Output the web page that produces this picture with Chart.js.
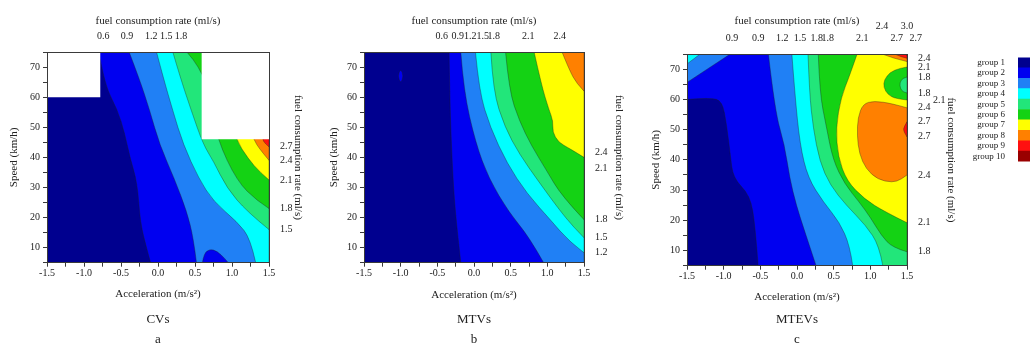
<!DOCTYPE html>
<html>
<head>
<meta charset="utf-8">
<script src="https://cdn.jsdelivr.net/npm/chart.js@4.4.0/dist/chart.umd.min.js"></script>
<style>
  body { margin: 0; background: #fff; width: 1035px; height: 361px; position: relative; overflow: hidden; }
  canvas { position: absolute; }
</style>
</head>
<body>
<canvas id="cvs" width="310" height="361" style="left:0;top:0"></canvas>
<canvas id="mtvs" width="310" height="361" style="left:322px;top:0"></canvas>
<canvas id="mtevs" width="320" height="361" style="left:646px;top:0"></canvas>
<canvas id="groups" width="63" height="125" style="left:972px;top:47px"></canvas>
<script>
// group colours, index = group number (0 = no data)
const groupColors = ['#ffffff', '#00008f', '#0000f0', '#2080f5', '#00ffff', '#22e67a',
  '#14d214', '#ffff00', '#ff8000', '#ff1010', '#9a0000'];
const groupNames = ['group 1', 'group 2', 'group 3', 'group 4', 'group 5',
  'group 6', 'group 7', 'group 8', 'group 9', 'group 10'];
const legendSpan = [1, 1, 1, 1, 1, 1, 1, 1, 1, 1];

// whole plotting range (acceleration m/s², speed km/h)
const fullArea = [[-1.5, 5], [-1.5, 75], [1.5, 75], [1.5, 5]];

// ---- CVs : contour regions, [acceleration, speed] ----
const cvsG2 = [[-0.80, 75], [-0.72, 64], [-0.55, 56], [-0.45, 48], [-0.38, 40], [-0.28, 31.6], [-0.24, 18.3], [-0.15, 9.4], [-0.10, 5], [1.5, 5], [1.5, 75]];
const cvsG3 = [[-0.39, 75], [-0.25, 66], [-0.11, 55.5], [0.02, 44.3], [0.22, 33], [0.39, 22], [0.48, 13], [0.52, 5], [1.5, 5], [1.5, 75]];
const cvsBlob2 = [[0.60, 5], [0.62, 8], [0.70, 9.6], [0.80, 8.8], [0.90, 6.5], [0.95, 5]];
const cvsG4 = [[-0.02, 75], [0.07, 66.6], [0.20, 55.5], [0.34, 44.3], [0.55, 33], [0.75, 25.3], [1.07, 18.6], [1.25, 13], [1.32, 5], [1.5, 5], [1.5, 75]];
const cvsG5 = [[0.20, 75], [0.30, 66.6], [0.45, 55.5], [0.61, 44.3], [0.75, 38.7], [0.93, 29.8], [1.20, 22], [1.5, 16], [1.5, 75]];
const cvsG6 = [[0.39, 75], [0.57, 70], [0.70, 60], [0.80, 46], [1.07, 32], [1.34, 25.5], [1.5, 23], [1.5, 75]];
const cvsG7 = [[0.90, 75], [0.98, 55], [1.05, 46], [1.22, 39.5], [1.38, 35], [1.5, 32.5], [1.5, 75]];
const cvsG8 = [[1.20, 75], [1.25, 50], [1.29, 46], [1.38, 42.5], [1.5, 39], [1.5, 75]];
const cvsG9 = [[1.38, 75], [1.40, 50], [1.41, 46], [1.45, 44.5], [1.5, 43.5], [1.5, 75]];
const cvsBlankL = [[-1.5, 60], [-0.78, 60], [-0.78, 75], [-1.5, 75]];
const cvsBlankR = [[0.59, 46], [1.5, 46], [1.5, 75], [0.59, 75]];
const cvsTopTicks = [-0.74, -0.42, -0.09, 0.11, 0.31];
const cvsTopLabels = ['0.6', '0.9', '1.2', '1.5', '1.8'];
const cvsRightTicks = [16, 23, 32.2, 38.9, 43.8];
const cvsRightLabels = ['1.5', '1.8', '2.1', '2.4', '2.7'];

// ---- MTVs ----
const mtvsG2 = [[-0.34, 75], [-0.33, 60], [-0.31, 45], [-0.28, 30], [-0.24, 18], [-0.18, 5], [1.5, 5], [1.5, 75]];
const mtvsBlob2 = [[-1.04, 67], [-1.0, 69.5], [-0.96, 67], [-1.0, 64.5]];
const mtvsG3 = [[-0.18, 75], [-0.14, 62], [0.02, 45], [0.20, 33], [0.48, 21.6], [0.75, 13.6], [0.95, 5], [1.5, 5], [1.5, 75]];
const mtvsG4 = [[0.02, 75], [0.07, 62], [0.22, 50], [0.45, 38], [0.72, 28], [1.05, 19], [1.3, 12], [1.5, 8.3], [1.5, 75]];
const mtvsG5 = [[0.23, 75], [0.26, 62], [0.42, 50], [0.62, 41], [0.88, 32], [1.15, 23], [1.35, 17], [1.5, 13.3], [1.5, 75]];
const mtvsG6 = [[0.43, 75], [0.48, 62], [0.62, 52], [0.78, 44], [0.98, 36], [1.2, 27], [1.5, 19.3], [1.5, 75]];
const mtvsG7 = [[0.82, 75], [0.92, 64], [1.02, 56], [1.08, 52], [1.07, 48.5], [1.15, 45], [1.3, 43], [1.5, 40], [1.5, 75]];
const mtvsG8 = [[1.2, 75], [1.3, 69], [1.4, 64.5], [1.5, 62], [1.5, 75]];
const mtvsTopTicks = [-0.44, -0.22, -0.05, 0.12, 0.27, 0.74, 1.17];
const mtvsTopLabels = ['0.6', '0.9', '1.2', '1.5', '1.8', '2.1', '2.4'];
const mtvsRightTicks = [8.3, 13.3, 19.3, 36.2, 41.5];
const mtvsRightLabels = ['1.2', '1.5', '1.8', '2.1', '2.4'];

// ---- MTEVs ----
const mtevsG2 = [[-1.5, 60], [-1.18, 60.6], [-1.02, 59.4], [-0.96, 51.7], [-0.91, 41.7], [-0.87, 33.9], [-0.64, 28.3], [-0.57, 18.3], [-0.53, 5], [1.5, 5], [1.5, 75], [-1.5, 75]];
const mtevsG3a = [[-1.5, 75], [-1.5, 65.6], [-0.91, 75]];
const mtevsG4a = [[-1.5, 75], [-1.5, 71.7], [-1.32, 75]];
const mtevsG3 = [[-0.39, 75], [-0.30, 56], [-0.17, 45], [-0.10, 34], [-0.01, 25], [0.11, 16], [0.26, 5], [1.5, 5], [1.5, 75]];
const mtevsG4 = [[-0.07, 75], [-0.03, 62], [0.04, 45], [0.15, 34], [0.36, 26], [0.58, 19.4], [0.72, 11.7], [0.76, 5], [1.5, 5], [1.5, 75]];
const mtevsG5 = [[0.15, 75], [0.17, 62], [0.22, 50.6], [0.31, 39.4], [0.45, 31.7], [0.67, 25], [0.94, 18.3], [1.12, 11.7], [1.17, 5], [1.5, 5], [1.5, 75]];
const mtevsG6 = [[0.29, 75], [0.31, 62], [0.40, 51], [0.49, 40], [0.65, 32], [0.85, 26], [1.0, 21], [1.15, 15], [1.3, 11], [1.5, 9.6], [1.5, 75]];
const mtevsG7 = [[0.82, 75], [0.72, 68], [0.60, 60.6], [0.53, 50.6], [0.56, 41], [0.68, 33], [0.92, 27], [1.2, 22.8], [1.5, 19.2], [1.5, 75]];
const mtevsIsle6 = [[1.5, 70.7], [1.4, 70.3], [1.27, 69], [1.19, 66.5], [1.18, 64], [1.24, 61.5], [1.35, 60.2], [1.5, 59.8]];
const mtevsIsle5 = [[1.5, 67.4], [1.44, 67], [1.4, 65.5], [1.41, 63.5], [1.45, 62.4], [1.5, 62.1]];
const mtevsBlob8 = [[1.5, 57.2], [1.3, 58.6], [1.05, 59.5], [0.90, 58.5], [0.83, 54], [0.82, 48], [0.85, 42], [0.94, 37], [1.1, 33.5], [1.3, 32.5], [1.42, 33.5], [1.5, 35]];
const mtevsSliver9 = [[1.5, 52.6], [1.46, 51], [1.45, 49.5], [1.5, 47.6]];
const mtevsCorner8 = [[1.16, 75], [1.32, 73.5], [1.5, 72.5], [1.5, 75]];
const mtevsCorner9 = [[1.33, 75], [1.42, 74], [1.5, 73.6], [1.5, 75]];
const mtevsCorner10 = [[1.46, 75], [1.5, 74.6], [1.5, 75]];
const mtevsTopTicks = [-0.886, -0.53, -0.20, 0.04, 0.27, 0.42, 0.89, 1.16, 1.36, 1.5, 1.5];
const mtevsTopLabels = ['0.9', '0.9', '1.2', '1.5', '1.8', '1.8', '2.1', ['2.4', ''], '2.7', ['3.0', ''], '       2.7'];
const mtevsRightTicks = [9.6, 19.2, 35, 47.6, 52.6, 57.2, 59.8, 62.1, 67.4, 70.7, 73.7];
const mtevsRightLabels = ['1.8', '2.1', '2.4', '2.7', '2.7', '2.4', '      2.1', '1.8', '1.8', '2.1', '2.4'];

const serif = "'Liberation Serif', 'DejaVu Serif', serif";
const ink = '#222';
const frame = '#3a3a3a';

// path through the points, rounded except where a point sits on the plot edge
function tracePath(ctx, pts, onEdge) {
  const n = pts.length;
  const mid = (a, b) => ({ x: (a.x + b.x) / 2, y: (a.y + b.y) / 2 });
  const start = onEdge(0) ? pts[0] : mid(pts[n - 1], pts[0]);
  ctx.moveTo(start.x, start.y);
  for (let k = 0; k < n; k++) {
    const p = pts[k], q = pts[(k + 1) % n];
    if (onEdge(k)) { ctx.lineTo(p.x, p.y); continue; }
    const end = onEdge((k + 1) % n) ? q : mid(p, q);
    ctx.quadraticCurveTo(p.x, p.y, end.x, end.y);
  }
  ctx.closePath();
}

const contourPlugin = {
  id: 'contours',
  beforeDatasetsDraw(chart) {
    const { ctx, chartArea: area } = chart;
    const xs = chart.scales.x, ys = chart.scales.y;
    ctx.save();
    ctx.beginPath();
    ctx.rect(area.left, area.top, area.right - area.left, area.bottom - area.top);
    ctx.clip();
    chart.data.datasets.forEach((ds, i) => {
      const pts = chart.getDatasetMeta(i).data;
      const onEdge = k => ds.sharp || ds.data[k][0] === xs.min || ds.data[k][0] === xs.max ||
        ds.data[k][1] === ys.min || ds.data[k][1] === ys.max;
      ctx.beginPath();
      tracePath(ctx, pts, onEdge);
      ctx.fillStyle = groupColors[ds.group];
      ctx.fill();
      if (ds.group > 1) {
        ctx.lineWidth = 0.6;
        ctx.strokeStyle = 'rgba(30,30,30,0.6)';
        ctx.stroke();
      }
    });
    ctx.restore();
  }
};

function makePanel(id, p) {
  const tickFont = { family: serif, size: 10 };
  const titleFont = { family: serif, size: 11 };
  const edge = { display: true, color: frame, width: 1, z: 1 };
  const marks = { display: true, drawOnChartArea: false, drawTicks: true, tickLength: 4, color: frame };
  return new Chart(document.getElementById(id), {
    type: 'scatter',
    data: {
      datasets: p.layers.map(([group, pts, sharp]) => ({
        data: pts, group, sharp: !!sharp, pointRadius: 0, pointHoverRadius: 0
      }))
    },
    options: {
      responsive: false,
      animation: false,
      events: [],
      layout: { padding: 0 },
      plugins: {
        legend: { display: false },
        tooltip: { enabled: false },
        title: {
          display: true, position: 'bottom', fullSize: false, text: p.caption, color: ink,
          font: { family: serif, size: 13, weight: 'normal', lineHeight: 1.55 },
          padding: { top: 0, bottom: 11 }
        }
      },
      scales: {
        x: {
          type: 'linear', position: 'bottom', min: -1.5, max: 1.5,
          afterFit: s => { s.height = p.bottomH; },
          ticks: {
            stepSize: 0.25, autoSkip: false, maxRotation: 0, padding: 1, color: ink, font: tickFont,
            callback: v => Math.abs(v * 2 - Math.round(v * 2)) < 1e-6 ? v.toFixed(1) : ''
          },
          grid: marks, border: edge,
          title: { display: true, text: 'Acceleration (m/s²)', color: ink, font: titleFont, padding: { top: 0, bottom: p.xTitlePad } }
        },
        y: {
          type: 'linear', position: 'left', min: 5, max: 75,
          afterFit: s => { s.width = p.leftW; },
          ticks: {
            stepSize: 5, autoSkip: false, padding: 3, color: ink, font: tickFont,
            callback: v => v % 10 === 0 ? String(v) : ''
          },
          grid: marks, border: edge,
          title: { display: true, text: 'Speed (km/h)', color: ink, font: titleFont, padding: { top: p.leftPad, bottom: 0 } }
        },
        x2: {
          type: 'linear', position: 'top', display: true, min: -1.5, max: 1.5,
          afterFit: s => { s.height = p.topH; },
          afterBuildTicks: s => { s.ticks = p.topTicks.map(v => ({ value: v })); },
          ticks: { autoSkip: false, maxRotation: 0, padding: 2, color: ink, font: tickFont, callback: (v, i) => p.topLabels[i] },
          grid: { display: false }, border: edge,
          title: { display: true, text: 'fuel consumption rate (ml/s)', color: ink, font: titleFont, padding: { top: p.topPad, bottom: 0 } }
        },
        y2: {
          type: 'linear', position: 'right', display: true, min: 5, max: 75,
          afterFit: s => { s.width = p.rightW; },
          afterBuildTicks: s => { s.ticks = p.rightTicks.map(v => ({ value: v })); },
          ticks: { autoSkip: false, padding: 3, color: ink, font: tickFont, callback: (v, i) => p.rightLabels[i] },
          grid: { display: false }, border: edge,
          title: { display: true, text: 'fuel consumption rate (ml/s)', color: ink, font: titleFont, padding: { top: p.rightPad, bottom: 0 } }
        }
      }
    },
    plugins: [contourPlugin]
  });
}

makePanel('cvs', {
  caption: ['CVs', 'a'],
  leftW: 47, rightW: 41, topH: 52, bottomH: 47, leftPad: 8, rightPad: 6, topPad: 15, xTitlePad: 9,
  topTicks: cvsTopTicks, topLabels: cvsTopLabels, rightTicks: cvsRightTicks, rightLabels: cvsRightLabels,
  layers: [[1, fullArea, true], [2, cvsG2], [3, cvsG3], [2, cvsBlob2], [4, cvsG4], [5, cvsG5], [6, cvsG6],
    [7, cvsG7], [8, cvsG8], [9, cvsG9], [0, cvsBlankL, true], [0, cvsBlankR, true]]
});

makePanel('mtvs', {
  caption: ['MTVs', 'b'],
  leftW: 42, rightW: 48, topH: 52, bottomH: 47, leftPad: 6, rightPad: 7, topPad: 15, xTitlePad: 8,
  topTicks: mtvsTopTicks, topLabels: mtvsTopLabels, rightTicks: mtvsRightTicks, rightLabels: mtvsRightLabels,
  layers: [[1, fullArea, true], [2, mtvsG2], [2, mtvsBlob2], [3, mtvsG3], [4, mtvsG4], [5, mtvsG5],
    [6, mtvsG6], [7, mtvsG7], [8, mtvsG8]]
});

makePanel('mtevs', {
  caption: ['MTEVs', 'c'],
  leftW: 41, rightW: 59, topH: 54, bottomH: 44, leftPad: 4, rightPad: 9, topPad: 15, xTitlePad: 6,
  topTicks: mtevsTopTicks, topLabels: mtevsTopLabels, rightTicks: mtevsRightTicks, rightLabels: mtevsRightLabels,
  layers: [[1, fullArea, true], [2, mtevsG2], [3, mtevsG3a], [4, mtevsG4a], [3, mtevsG3], [4, mtevsG4],
    [5, mtevsG5], [6, mtevsG6], [7, mtevsG7], [6, mtevsIsle6], [5, mtevsIsle5], [8, mtevsBlob8],
    [9, mtevsSliver9], [8, mtevsCorner8], [9, mtevsCorner9], [10, mtevsCorner10]]
});

// colour key
new Chart(document.getElementById('groups'), {
  type: 'bar',
  data: {
    labels: groupNames,
    datasets: [{
      data: legendSpan, backgroundColor: groupColors.slice(1),
      barPercentage: 1, categoryPercentage: 1, borderWidth: 0
    }]
  },
  options: {
    indexAxis: 'y',
    responsive: false,
    animation: false,
    events: [],
    layout: { padding: { top: 8, bottom: 7, right: 5, left: 0 } },
    plugins: { legend: { display: false }, tooltip: { enabled: false } },
    scales: {
      x: { display: false, min: 0, max: 1 },
      y: {
        afterFit: s => { s.width = 46; },
        grid: { display: false }, border: { display: false },
        ticks: { autoSkip: false, padding: 5, color: ink, font: { family: serif, size: 9 } }
      }
    }
  }
});
</script>
</body>
</html>
